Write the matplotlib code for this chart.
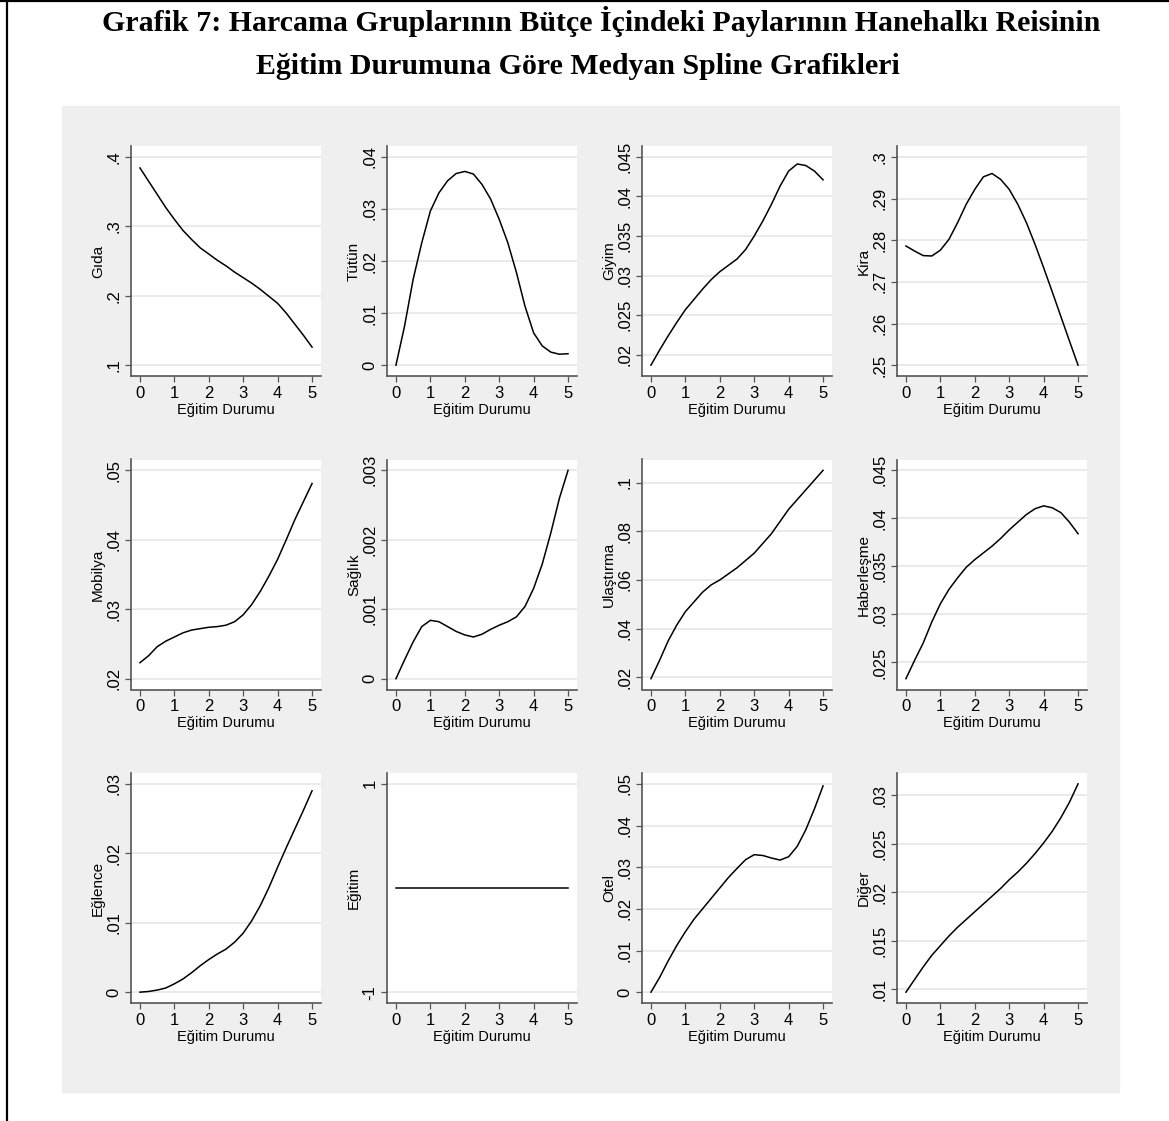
import numpy as np
import matplotlib
matplotlib.use("Agg")
import matplotlib.pyplot as plt
from matplotlib.patches import Rectangle
from matplotlib.lines import Line2D
from matplotlib.ticker import FuncFormatter

plt.rcParams['font.family'] = ['Liberation Sans Narrow', 'Liberation Sans', 'DejaVu Sans']

W, H = 1169, 1121

TITLE_1 = "Grafik 7: Harcama Gruplarının Bütçe İçindeki Paylarının Hanehalkı Reisinin"
TITLE_2 = "Eğitim Durumuna Göre Medyan Spline Grafikleri"
XLABEL = "Eğitim Durumu"

# education level, read every 0.25
egitim_x = [0, 0.25, 0.5, 0.75, 1, 1.25, 1.5, 1.75, 2, 2.25, 2.5, 2.75,
            3, 3.25, 3.5, 3.75, 4, 4.25, 4.5, 4.75, 5]
x_ticks = [0, 1, 2, 3, 4, 5]

names = ["Gıda", "Tütün", "Giyim", "Kira",
         "Mobilya", "Sağlık", "Ulaştırma", "Haberleşme",
         "Eğlence", "Eğitim", "Otel", "Diğer"]

gida = [.384, .365, .346, .327, .310, .294, .281, .269, .260, .251, .243, .234,
        .226, .218, .209, .199, .189, .175, .159, .143, .126]
tutun = [0, .0075, .0165, .0235, .0296, .0331, .0354, .0368, .0372, .0367, .0347, .0319,
         .0280, .0235, .0178, .0113, .0062, .0037, .0025, .0021, .0022]
giyim = [.0187, .0206, .0224, .0241, .0257, .0270, .0283, .0295, .0305, .0313, .0321, .0333,
         .0350, .0369, .0390, .0413, .0432, .0441, .0439, .0432, .0421]
kira = [.2786, .2774, .2763, .2762, .2776, .2802, .2842, .2886, .2922, .2952, .2960, .2946,
        .2922, .2886, .2842, .2790, .2734, .2676, .2617, .2558, .2500]
mobilya = [.0223, .0233, .0246, .0254, .0260, .0266, .0270, .0272, .0274, .0275, .0277, .0282,
           .0292, .0307, .0326, .0348, .0372, .0400, .0429, .0455, .0481]
saglik = [0, .00027, .00053, .00075, .00084, .00082, .00075, .00068, .00063, .00060, .00064, .00071,
          .00077, .00082, .00089, .00104, .0013, .00165, .0021, .0026, .0030]
ulastirma = [.0195, .027, .035, .0415, .047, .051, .055, .058, .060, .0625, .065, .068,
             .071, .075, .079, .084, .089, .093, .097, .101, .105]
haberlesme = [.0233, .0252, .0270, .0292, .0311, .0326, .0338, .0349, .0357, .0364, .0371, .0379,
              .0388, .0396, .0404, .0410, .0413, .0411, .0406, .0396, .0384]
eglence = [0, .0001, .0003, .0006, .0012, .0019, .0028, .0038, .0047, .0055, .0062, .0072,
           .0085, .0103, .0125, .0151, .018, .0208, .0235, .0262, .029]
egitim = [0] * 21
otel = [0, .0035, .0075, .0112, .0145, .0175, .020, .0225, .025, .0275, .0297, .0318,
        .0330, .0328, .0322, .0317, .0325, .0350, .0390, .0440, .0495]
diger = [.0097, .0110, .0123, .0135, .0145, .0155, .0164, .0172, .0180, .0188, .0196, .0204,
         .0213, .0221, .0230, .0240, .0251, .0263, .0277, .0293, .0312]

series = [gida, tutun, giyim, kira, mobilya, saglik, ulastirma, haberlesme,
          eglence, egitim, otel, diger]

y_ticks = [
    [.1, .2, .3, .4],
    [0, .01, .02, .03, .04],
    [.02, .025, .03, .035, .04, .045],
    [.25, .26, .27, .28, .29, .3],
    [.02, .03, .04, .05],
    [0, .001, .002, .003],
    [.02, .04, .06, .08, .1],
    [.025, .03, .035, .04, .045],
    [0, .01, .02, .03],
    [-1, 1],
    [0, .01, .02, .03, .04, .05],
    [.01, .015, .02, .025, .03],
]


def stata_fmt(v, pos=None):
    s = f"{v:g}"
    if s.startswith("0."):
        s = s[1:]
    elif s.startswith("-0."):
        s = "-" + s[2:]
    return s


fig = plt.figure(figsize=(W / 100, H / 100), dpi=100)

# outer frame (top and left) and the grey graph region
fig.add_artist(Line2D([0, 1], [1 - 1 / H, 1 - 1 / H], color='black', lw=1.6))
fig.add_artist(Line2D([6.5 / W, 6.5 / W], [0, 1], color='black', lw=1.6))
fig.patches.append(Rectangle((62 / W, 1 - 1092 / H), (1119 - 62) / W, (1092 - 106) / H,
                             transform=fig.transFigure, color='#efefef', zorder=-1))

fig.text(601 / W, 1 - 31 / H, TITLE_1, ha='center', va='baseline', fontsize=21.5,
         fontweight='bold', family=['Liberation Serif'])
fig.text(578 / W, 1 - 74 / H, TITLE_2, ha='center', va='baseline', fontsize=21.5,
         fontweight='bold', family=['Liberation Serif'])

lefts = [131, 387, 642, 897]
tops = [146, 459.5, 773]
aw, ah = 190, 230

for i, (name, vals, ticks) in enumerate(zip(names, series, y_ticks)):
    r, c = divmod(i, 4)
    ax = fig.add_axes([lefts[c] / W, 1 - (tops[r] + ah) / H, aw / W, ah / H])
    ax.set_facecolor('white')
    ax.plot(egitim_x, vals, color='black', lw=1.1, zorder=3)

    lo = min(min(vals), ticks[0])
    hi = max(max(vals), ticks[-1])
    pad = 0.052 * (hi - lo)
    ax.set_ylim(lo - pad, hi + pad)
    ax.set_xlim(-0.26, 5.26)

    ax.set_yticks(ticks)
    ax.set_xticks(x_ticks)
    ax.yaxis.set_major_formatter(FuncFormatter(stata_fmt))
    ax.grid(axis='y', color='#e8e8e8', lw=1.3, zorder=0)
    ax.set_axisbelow(True)

    for side in ['top', 'right']:
        ax.spines[side].set_visible(False)
    for side in ['left', 'bottom']:
        ax.spines[side].set_color('#555555')
        ax.spines[side].set_linewidth(1.2)

    ax.tick_params(axis='both', direction='out', length=4.5, width=0.9, color='#555555',
                   labelsize=12, pad=2.5)
    for lab in ax.get_yticklabels():
        lab.set_rotation(90)
        lab.set_va('center')

    ax.set_ylabel(name, fontsize=11, labelpad=1)
    ax.set_xlabel(XLABEL, fontsize=10.5, labelpad=1.5)

fig.savefig("out.png", dpi=100)
